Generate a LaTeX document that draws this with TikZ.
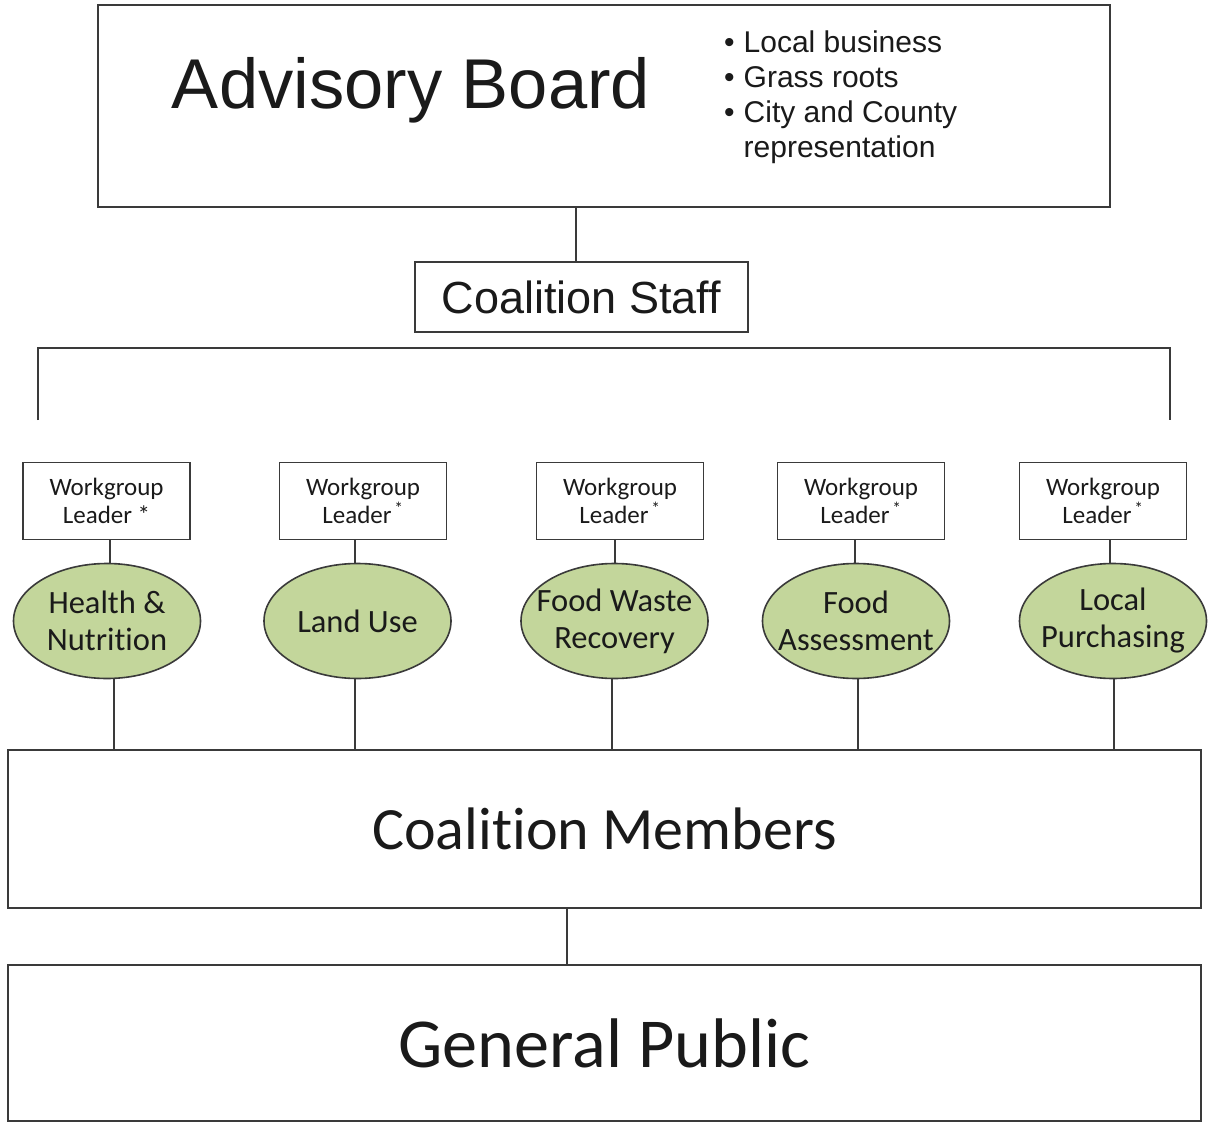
\documentclass[tikz,border=0pt]{standalone}
\usepackage{fontspec}
\setmainfont{Carlito}[Ligatures={NoCommon}]
\newfontfamily\arialf{Liberation Sans}
\usetikzlibrary{shapes.geometric}
\definecolor{linec}{HTML}{3A3A3A}
\definecolor{grp}{HTML}{C3D69B}
\definecolor{txt}{HTML}{1A1A1A}
\newcommand{\zl}[1]{\makebox[0pt]{#1}}
\begin{document}
\begin{tikzpicture}[x=1pt,y=-1pt,
  conn/.style={draw=linec,line width=1.6pt},
  bigbox/.style={draw=linec,line width=2pt,rectangle,inner sep=0pt,outer sep=0pt,text=txt},
  wgbox/.style={draw=linec,line width=1.6pt,rectangle,minimum width=167pt,minimum height=77pt,inner sep=0pt,outer sep=0pt,align=center,text=txt,font=\fontsize{25}{28}\selectfont},
  grpell/.style={draw=linec,line width=1.6pt,ellipse,fill=grp,minimum width=187pt,minimum height=115pt,inner sep=0pt,outer sep=0pt,align=center,text=txt,font=\fontsize{32.5}{37}\selectfont}
]
\useasboundingbox (0,0) rectangle (1211,1124);
\fill[white] (0,0) rectangle (1211,1124);
% Advisory Board
\node[bigbox,minimum width=1012pt,minimum height=202pt] (ab) at (604,106) {};
\node[text=txt,font=\arialf\fontsize{70.5}{80}\selectfont,inner sep=0pt] (abt) at (411,90) {Advisory Board};
\node[text=txt,font=\arialf\fontsize{30}{35}\selectfont,anchor=north west,inner sep=0pt] (abl) at (724,28) {%
\begin{tabular}{@{}l@{\hspace{9pt}}l@{}}
\textbullet & Local business\\
\textbullet & Grass roots\\
\textbullet & City and County\\
 & representation
\end{tabular}};
% Coalition Staff
\node[bigbox,minimum width=333pt,minimum height=70pt,font=\arialf\fontsize{45}{50}\selectfont] (cs) at (581.5,297) {Coalition Staff};
\coordinate (csx) at (576,0);
\draw[conn] (ab.south -| csx) -- (cs.north -| csx);
% bracket
\coordinate (bl) at (38,420);
\coordinate (blt) at (38,348);
\coordinate (brt) at (1170,348);
\coordinate (br) at (1170,420);
\draw[conn] (bl) -- (blt) -- (brt) -- (br);
% workgroup leaders
\node[wgbox] (w1) at (106.5,501) {Workgroup\\Leader *};
\node[wgbox] (w2) at (363,501) {Workgroup\\Leader\textsuperscript{\,*}};
\node[wgbox] (w3) at (620,501) {Workgroup\\Leader\textsuperscript{\,*}};
\node[wgbox] (w4) at (861,501) {Workgroup\\Leader\textsuperscript{\,*}};
\node[wgbox] (w5) at (1103,501) {Workgroup\\Leader\textsuperscript{\,*}};
% groups
\node[grpell] (e1) at (107,621) {\zl{Health \&}\\\zl{Nutrition}};
\node[grpell] (e2) at (357.5,621) {\zl{Land Use}};
\node[grpell] (e3) at (614.5,621) {\zl{Food Waste}\\\zl{Recovery}};
\node[grpell] (e4) at (856,621) {\zl{Food}\\\zl{Assessment}};
\node[grpell] (e5) at (1113,621) {\zl{Local}\\\zl{Purchasing}};
\foreach \i/\x in {1/110,2/355,3/615,4/855,5/1110}{
  \coordinate (ux\i) at (\x,0);
  \draw[conn] (w\i.south -| ux\i) -- (e\i.north -| ux\i);
}
% Coalition Members & General Public
\node[bigbox,line width=2.6pt,minimum width=1193pt,minimum height=158pt,font=\fontsize{60}{66}\selectfont] (cm) at (604.5,829) {Coalition Members};
\node[bigbox,line width=2.6pt,minimum width=1193pt,minimum height=156pt,font=\fontsize{70.2}{76}\selectfont] (gp) at (604.5,1043) {General Public};
\foreach \i/\x in {1/114,2/355,3/612,4/858,5/1114}{
  \coordinate (lx\i) at (\x,0);
  \draw[conn] (e\i.south -| lx\i) -- (cm.north -| lx\i);
}
\coordinate (cmgp) at (567,0);
\draw[conn] (cm.south -| cmgp) -- (gp.north -| cmgp);
\end{tikzpicture}
\end{document}
